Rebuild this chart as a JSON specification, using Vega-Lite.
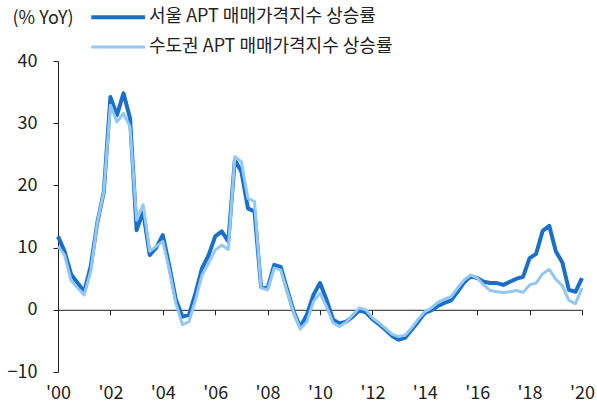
{
  "$schema": "https://vega.github.io/schema/vega-lite/v6.json",
  "width": 524,
  "height": 311,
  "autosize": {"type": "none"},
  "padding": {"left": 58, "top": 61, "right": 15, "bottom": 36},
  "background": "white",
  "config": {
    "view": {"stroke": null},
    "font": "Noto Sans CJK KR",
    "axis": {"grid": false, "domainColor": "#222", "tickColor": "#222", "labelColor": "#222", "titleColor": "#222", "labelFontSize": 18, "titleFontSize": 18, "labelFont": "Noto Sans CJK KR", "titleFont": "Noto Sans CJK KR"}
  },
  "data": {"values": [
    {"t":2000.00,"s":11.8,"m":10.2},{"t":2000.25,"s":9.4,"m":8.8},{"t":2000.50,"s":5.7,"m":4.7},{"t":2000.75,"s":4.3,"m":3.5},
    {"t":2001.00,"s":2.9,"m":2.4},{"t":2001.25,"s":7.0,"m":6.2},{"t":2001.50,"s":14.0,"m":14.0},{"t":2001.75,"s":19.0,"m":19.0},
    {"t":2002.00,"s":34.2,"m":32.9},{"t":2002.25,"s":31.3,"m":30.2},{"t":2002.50,"s":34.8,"m":31.6},{"t":2002.75,"s":30.8,"m":29.4},
    {"t":2003.00,"s":12.8,"m":14.4},{"t":2003.25,"s":15.8,"m":16.9},{"t":2003.50,"s":8.8,"m":9.4},{"t":2003.75,"s":10.0,"m":10.2},
    {"t":2004.00,"s":12.0,"m":11.0},{"t":2004.25,"s":7.0,"m":6.4},{"t":2004.50,"s":1.6,"m":1.0},{"t":2004.75,"s":-1.1,"m":-2.4},
    {"t":2005.00,"s":-0.8,"m":-1.9},{"t":2005.25,"s":2.7,"m":1.6},{"t":2005.50,"s":6.7,"m":5.6},{"t":2005.75,"s":8.8,"m":7.5},
    {"t":2006.00,"s":11.8,"m":9.6},{"t":2006.25,"s":12.6,"m":10.4},{"t":2006.50,"s":11.0,"m":9.7},{"t":2006.75,"s":24.1,"m":24.6},
    {"t":2007.00,"s":22.2,"m":23.8},{"t":2007.25,"s":16.3,"m":17.9},{"t":2007.50,"s":15.8,"m":17.4},{"t":2007.75,"s":3.7,"m":3.5},
    {"t":2008.00,"s":3.5,"m":3.2},{"t":2008.25,"s":7.2,"m":6.7},{"t":2008.50,"s":6.9,"m":6.4},{"t":2008.75,"s":3.2,"m":2.9},
    {"t":2009.00,"s":-0.3,"m":-0.5},{"t":2009.25,"s":-2.8,"m":-3.1},{"t":2009.50,"s":-0.8,"m":-1.9},{"t":2009.75,"s":2.4,"m":1.3},
    {"t":2010.00,"s":4.3,"m":2.7},{"t":2010.25,"s":1.6,"m":0.5},{"t":2010.50,"s":-1.6,"m":-2.1},{"t":2010.75,"s":-2.2,"m":-2.7},
    {"t":2011.00,"s":-1.9,"m":-2.0},{"t":2011.25,"s":-1.1,"m":-0.8},{"t":2011.50,"s":-0.1,"m":0.3},{"t":2011.75,"s":-0.4,"m":0.0},
    {"t":2012.00,"s":-1.5,"m":-1.3},{"t":2012.25,"s":-2.3,"m":-2.1},{"t":2012.50,"s":-3.2,"m":-3.0},{"t":2012.75,"s":-4.2,"m":-3.9},
    {"t":2013.00,"s":-4.8,"m":-4.3},{"t":2013.25,"s":-4.5,"m":-4.1},{"t":2013.50,"s":-3.2,"m":-2.9},{"t":2013.75,"s":-1.9,"m":-1.5},
    {"t":2014.00,"s":-0.5,"m":-0.3},{"t":2014.25,"s":-0.1,"m":0.3},{"t":2014.50,"s":0.6,"m":1.2},{"t":2014.75,"s":1.1,"m":1.7},
    {"t":2015.00,"s":1.5,"m":2.1},{"t":2015.25,"s":2.9,"m":3.5},{"t":2015.50,"s":4.4,"m":4.8},{"t":2015.75,"s":5.4,"m":5.6},
    {"t":2016.00,"s":5.1,"m":5.1},{"t":2016.25,"s":4.5,"m":4.0},{"t":2016.50,"s":4.3,"m":3.1},{"t":2016.75,"s":4.3,"m":2.9},
    {"t":2017.00,"s":4.0,"m":2.8},{"t":2017.25,"s":4.5,"m":2.9},{"t":2017.50,"s":5.0,"m":3.1},{"t":2017.75,"s":5.3,"m":2.8},
    {"t":2018.00,"s":8.3,"m":4.0},{"t":2018.25,"s":9.0,"m":4.3},{"t":2018.50,"s":12.7,"m":5.8},{"t":2018.75,"s":13.5,"m":6.5},
    {"t":2019.00,"s":9.4,"m":4.9},{"t":2019.25,"s":7.6,"m":3.9},{"t":2019.50,"s":3.2,"m":1.5},{"t":2019.75,"s":2.9,"m":1.0},
    {"t":2020.00,"s":5.1,"m":3.5}
  ]},
  "transform": [
    {"fold": ["s", "m"], "as": ["key", "v"]},
    {"calculate": "datum.key === 's' ? '서울 APT 매매가격지수 상승률' : '수도권 APT 매매가격지수 상승률'", "as": "series"}
  ],
  "mark": {"type": "line", "strokeJoin": "round", "strokeCap": "butt"},
  "encoding": {
    "x": {
      "field": "t", "type": "quantitative",
      "scale": {"domain": [2000, 2020], "nice": false, "zero": false},
      "axis": {"values": [2000, 2002, 2004, 2006, 2008, 2010, 2012, 2014, 2016, 2018, 2020], "labelExpr": "\"'\" + substring(toString(datum.value), 2, 4)", "title": null, "offset": -62.2, "tickSize": 5, "labelPadding": 70, "labelFlush": false, "labelOverlap": false}
    },
    "y": {
      "field": "v", "type": "quantitative",
      "scale": {"domain": [-10, 40], "nice": false},
      "axis": {"values": [-10, 0, 10, 20, 30, 40], "tickSize": 5, "labelPadding": 16, "title": "(% YoY)", "titleAngle": 0, "titleAlign": "left", "titleBaseline": "middle", "titleX": -46, "titleY": -43, "titleFontWeight": "normal"}
    },
    "color": {
      "field": "series", "type": "nominal",
      "scale": {"domain": ["서울 APT 매매가격지수 상승률", "수도권 APT 매매가격지수 상승률"], "range": ["#1a6fc8", "#93c7f4"]},
      "legend": {"title": null, "orient": "none", "legendX": 31, "legendY": -52.7, "symbolType": "M-1,0H7", "symbolSize": 181, "labelFontSize": 18, "labelColor": "#222", "labelOffset": 42, "labelLimit": 500, "rowPadding": 11.7, "padding": 0, "labelFont": "Noto Sans CJK KR"}
    },
    "strokeWidth": {
      "field": "series", "type": "nominal",
      "scale": {"domain": ["서울 APT 매매가격지수 상승률", "수도권 APT 매매가격지수 상승률"], "range": [4, 3]},
      "legend": {"title": null, "orient": "none", "legendX": 31, "legendY": -52.7, "symbolType": "M-1,0H7", "symbolSize": 181, "labelFontSize": 18, "labelColor": "#222", "labelOffset": 42, "labelLimit": 500, "rowPadding": 11.7, "padding": 0, "labelFont": "Noto Sans CJK KR"}
    }
  }
}
